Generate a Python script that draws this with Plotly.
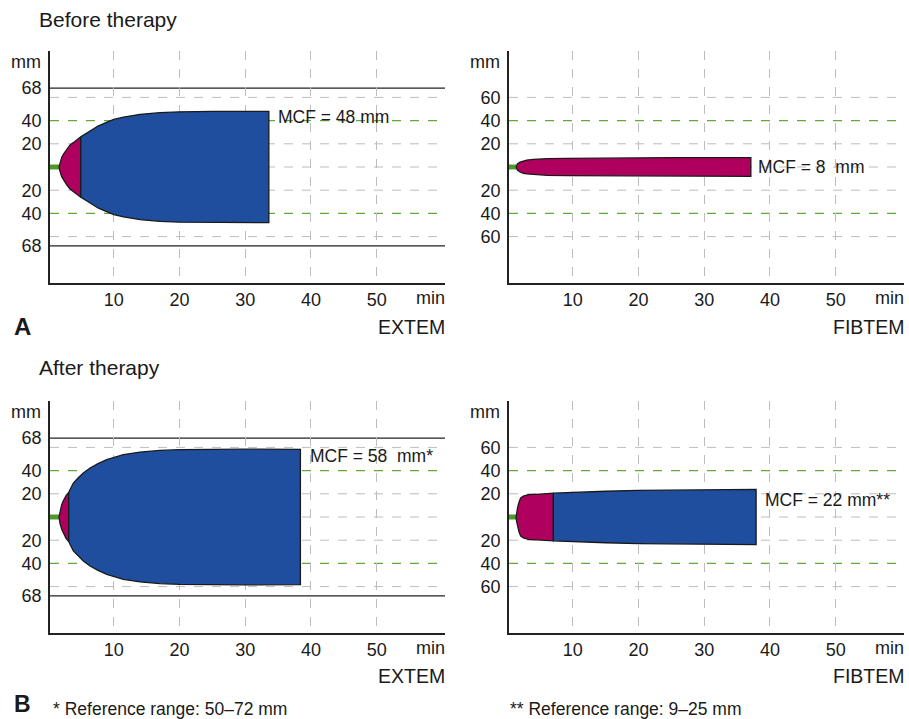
import plotly.graph_objects as go

W, H = 909, 719

# ---------------- data ----------------
x_ticks = [10, 20, 30, 40, 50]
x_range = [0.3, 60.4]
y_range = [-100, 100]

extem_y_ticks = [68, 40, 20, -20, -40, -68]
extem_y_labels = ["68", "40", "20", "20", "40", "68"]
fibtem_y_ticks = [60, 40, 20, -20, -40, -60]
fibtem_y_labels = ["60", "40", "20", "20", "40", "60"]

grey_ref_mm = [60, 20, 0, -20, -60]
green_ref_mm = [40, -40]
extem_limit_mm = [68, -68]

# Before therapy - EXTEM (time in min, amplitude in mm)
ext_before_time = [1.67, 1.83, 2.08, 2.33, 2.84, 3.35, 3.85, 4.37, 4.98, 6.4, 7.6, 8.9,
                   10.0, 11.5, 14.0, 17.0, 20.0, 25.0, 30.0, 33.6]
ext_before_amp = [0, 4, 8.3, 11, 15.5, 19, 21, 23.5, 26, 31, 35.3, 38.5,
                  41, 43, 45.4, 46.8, 47.6, 48, 48, 48]
ext_before_split = 4.98

# Before therapy - FIBTEM
fib_before_time = [1.37, 1.57, 1.98, 2.49, 3.0, 4.0, 6.1, 9.1, 13.0, 17.2, 25.0, 30.0, 37.1]
fib_before_amp = [0, 2.6, 4.3, 5.4, 6.0, 6.6, 7.2, 7.4, 7.7, 8.0, 8.0, 8.0, 8.0]
fib_before_split = 37.1

# After therapy - EXTEM
ext_after_time = [1.67, 1.83, 2.08, 2.33, 2.74, 3.15, 3.85, 4.6, 5.37, 6.39, 7.6, 8.93,
                  10.0, 11.46, 14.0, 17.0, 20.0, 25.0, 30.0, 38.4]
ext_after_amp = [0, 5.7, 10.6, 14, 18.4, 21.3, 29.3, 33.8, 37.9, 42.2, 46, 49.4,
                 51.4, 53.7, 56, 57.4, 58, 58.5, 58.5, 58.3]
ext_after_split = 3.15

# After therapy - FIBTEM
fib_after_time = [1.37, 1.47, 1.62, 1.83, 2.08, 2.49, 3.25, 5.02, 7.05, 10.0, 15.0,
                  20.0, 25.0, 30.0, 37.9]
fib_after_amp = [0, 4.3, 8.6, 12.9, 16.4, 18.1, 19.3, 19.8, 20.5, 21.2, 22.2,
                 22.9, 23.3, 23.6, 23.8]
fib_after_split = 7.05

mcf_labels = ["MCF = 48 mm", "MCF = 8\u00a0 mm", "MCF = 58\u00a0 mm*", "MCF = 22 mm**"]

# ---------------- styling ----------------
FONT = "Liberation Sans, Arial, Helvetica, sans-serif"
TXT = "#1a1a1a"
BLUE = "#1f4e9e"
MAGENTA = "#b0005f"
GREEN_STUB = "#4c9a2a"
GREEN_DASH = "#63a83a"
GREY_DASH = "#bdbdbd"
OUTLINE = "#1a1a1a"


def px_x(p):
    return p / W


def px_y(p):
    return 1 - p / H


# panel boxes in pixels: (left, right, top, bottom)
panels = [
    (50, 445, 51, 283),
    (509, 904, 51, 283),
    (50, 445, 401, 633),
    (509, 904, 401, 633),
]

fig = go.Figure()

datasets = [
    (ext_before_time, ext_before_amp, ext_before_split, True),
    (fib_before_time, fib_before_amp, fib_before_split, False),
    (ext_after_time, ext_after_amp, ext_after_split, True),
    (fib_after_time, fib_after_amp, fib_after_split, False),
]

shapes = []
for i, ((l, r, t, b), (tm, amp, split, is_extem)) in enumerate(zip(panels, datasets)):
    n = "" if i == 0 else str(i + 1)
    xa, ya = "x" + n, "y" + n
    xkey, ykey = "xaxis" + n, "yaxis" + n

    fig.layout[xkey] = dict(
        domain=[px_x(l), px_x(r)], anchor=ya, range=x_range,
        tickmode="array", tickvals=x_ticks, ticktext=[str(v) for v in x_ticks],
        showgrid=True, gridcolor=GREY_DASH, griddash="dash", gridwidth=1,
        showline=True, linecolor="#222222", linewidth=1.5,
        ticks="",
        tickfont=dict(size=18, color=TXT, family=FONT), zeroline=False, fixedrange=True,
    )
    fig.layout[ykey] = dict(
        domain=[px_y(b), px_y(t)], anchor=xa, range=y_range,
        tickmode="array",
        tickvals=extem_y_ticks if is_extem else fibtem_y_ticks,
        ticktext=extem_y_labels if is_extem else fibtem_y_labels,
        showgrid=False, showline=True, linecolor="#222222", linewidth=1.5,
        ticks="outside", ticklen=3, tickcolor="rgba(0,0,0,0)",
        tickfont=dict(size=18, color=TXT, family=FONT), zeroline=False, fixedrange=True,
    )

    # horizontal reference lines
    for v in grey_ref_mm:
        shapes.append(dict(type="line", xref=xa + " domain", x0=0, x1=1, yref=ya, y0=v, y1=v,
                           line=dict(color=GREY_DASH, width=1, dash="dash"), layer="below"))
    for v in green_ref_mm:
        shapes.append(dict(type="line", xref=xa + " domain", x0=0, x1=1, yref=ya, y0=v, y1=v,
                           line=dict(color=GREEN_DASH, width=1.2, dash="dash"), layer="below"))
    if is_extem:
        for v in extem_limit_mm:
            shapes.append(dict(type="line", xref=xa + " domain", x0=0, x1=1, yref=ya, y0=v, y1=v,
                               line=dict(color="#222222", width=1.3), layer="below"))

    # green baseline stub (until clotting time)
    fig.add_trace(go.Scatter(x=[0, tm[0]], y=[0, 0], mode="lines",
                             line=dict(color=GREEN_STUB, width=5),
                             xaxis=xa, yaxis=ya, showlegend=False, hoverinfo="skip"))

    # magenta part (CT -> CFT end)
    mt = [v for v in tm if v <= split]
    ma = [a for v, a in zip(tm, amp) if v <= split]
    xs = mt + mt[::-1]
    ys = ma + [-a for a in ma[::-1]]
    fig.add_trace(go.Scatter(x=xs + [xs[0]], y=ys + [ys[0]], mode="lines", fill="toself",
                             fillcolor=MAGENTA, line=dict(color=OUTLINE, width=1.3),
                             xaxis=xa, yaxis=ya, showlegend=False, hoverinfo="skip"))

    # blue part (after CFT)
    bt = [v for v in tm if v >= split]
    ba = [a for v, a in zip(tm, amp) if v >= split]
    if len(bt) > 1:
        xs = bt + bt[::-1]
        ys = ba + [-a for a in ba[::-1]]
        fig.add_trace(go.Scatter(x=xs + [xs[0]], y=ys + [ys[0]], mode="lines", fill="toself",
                                 fillcolor=BLUE, line=dict(color=OUTLINE, width=1.3),
                                 xaxis=xa, yaxis=ya, showlegend=False, hoverinfo="skip"))

fig.update_layout(shapes=shapes)

annotations = []


def add_text(text, x, y, xanchor="left", size=18, bold=False, yanchor="middle"):
    annotations.append(dict(
        text=("<b>%s</b>" % text) if bold else text,
        x=px_x(x), y=px_y(y), xref="paper", yref="paper",
        xanchor=xanchor, yanchor=yanchor, showarrow=False,
        font=dict(size=size, color=TXT, family=FONT),
    ))


add_text("Before therapy", 37, 19, size=21)
add_text("After therapy", 37, 367, size=21)

for (l, r, t, b) in panels:
    add_text("mm", l - 7, t + 11, xanchor="right", size=18)
    add_text("min", r + 2, b + 15, xanchor="right", size=18)

add_text("A", 12, 327, size=24, bold=True)
add_text("B", 12, 719, size=23, bold=True, yanchor="bottom")
add_text("EXTEM", 447, 327, xanchor="right", size=19.5)
add_text("FIBTEM", 907, 327, xanchor="right", size=19.5)
add_text("EXTEM", 447, 676, xanchor="right", size=19.5)
add_text("FIBTEM", 907, 676, xanchor="right", size=19.5)

add_text(mcf_labels[0], 276, 117, size=17.5)
add_text(mcf_labels[1], 756, 167, size=17.5)
add_text(mcf_labels[2], 308, 456, size=17.5)
add_text(mcf_labels[3], 763, 500, size=17.5)

add_text("* Reference range: 50\u201372 mm", 51, 709, size=17.5)
add_text("** Reference range: 9\u201325 mm", 508, 709, size=17.5)

fig.update_layout(
    annotations=annotations,
    width=W, height=H,
    margin=dict(l=0, r=0, t=0, b=0),
    paper_bgcolor="white", plot_bgcolor="white",
    showlegend=False,
    font=dict(family=FONT, color=TXT),
)

fig.write_html("out.html", config={"displayModeBar": False},
               post_script="document.body.style.margin='0';document.body.style.overflow='hidden';")
